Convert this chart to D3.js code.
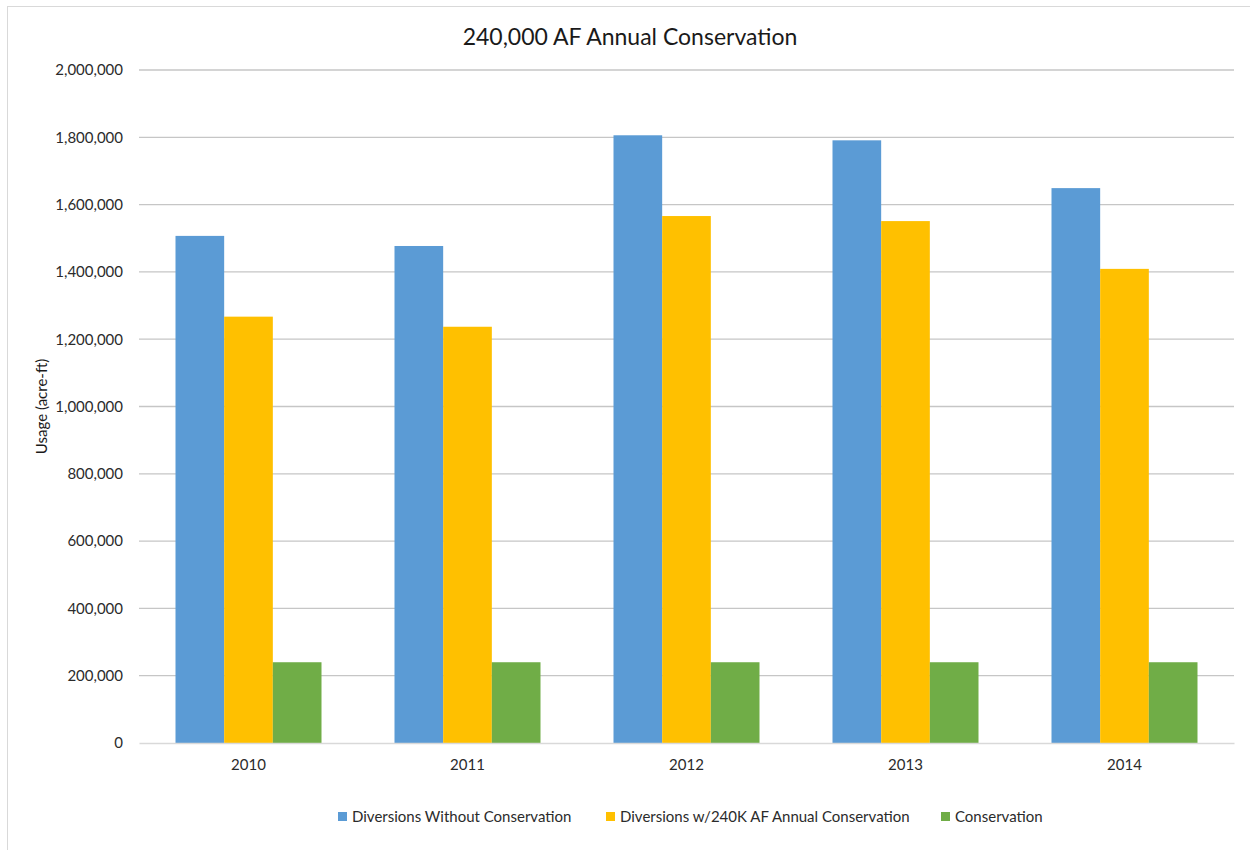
<!DOCTYPE html>
<html><head><meta charset="utf-8">
<script src="https://cdn.jsdelivr.net/npm/d3@7"></script>
<style>body{margin:0;background:#fff;} text{font-family:Lato,"Open Sans",sans-serif;}</style>
</head><body>
<svg id="c" width="1250" height="850"></svg>
<script>
const categories = ["2010","2011","2012","2013","2014"];
const seriesNames = ["Diversions Without Conservation","Diversions w/240K AF Annual Conservation","Conservation"];
const withoutConservation = [1507000, 1477000, 1806000, 1791000, 1649000];
const withConservation = [1267000, 1237000, 1566000, 1551000, 1409000];
const conservation = [240000, 240000, 240000, 240000, 240000];
const yTicks = [0,200000,400000,600000,800000,1000000,1200000,1400000,1600000,1800000,2000000];
const colors = ["#5B9BD5","#FFC000","#70AD47"];

const svg = d3.select("#c");
svg.append("rect").attr("x",7.5).attr("y",6.5).attr("width",1260).attr("height",860)
  .attr("fill","none").attr("stroke","#d9d9d9");

const L=139, R=1234, T=70, B=743;
const x0 = d3.scaleBand().domain(categories).range([L,R]).paddingInner(1/3).paddingOuter(1/6);
const x1 = d3.scaleBand().domain(d3.range(3)).range([0,x0.bandwidth()]);
const y = d3.scaleLinear().domain([0,2000000]).range([B,T]);

const g = svg.append("g");
g.selectAll("line.grid").data(yTicks.filter(d=>d>0)).join("line")
  .attr("x1",L).attr("x2",R).attr("y1",d=>y(d)).attr("y2",d=>y(d))
  .attr("stroke","#c6c6c6").attr("stroke-width",1.3);

const yAxis = d3.axisLeft(y).tickValues(yTicks).tickFormat(d3.format(",")).tickSize(0).tickPadding(16);
const ya = svg.append("g").attr("transform",`translate(${L},0)`).call(yAxis);
ya.select(".domain").remove();
ya.selectAll("text").attr("font-size",15).attr("fill","#2b2b2b").style("font-family","Lato");

const series = [withoutConservation, withConservation, conservation];
const data = categories.map((c,i)=>({cat:c, vals:series.map(s=>s[i])}));
const grp = svg.append("g").selectAll("g").data(data).join("g")
  .attr("transform",d=>`translate(${x0(d.cat)},0)`);
grp.selectAll("rect").data(d=>d.vals.map((v,j)=>({v,j}))).join("rect")
  .attr("x",d=>x1(d.j)).attr("width",x1.bandwidth())
  .attr("y",d=>y(d.v)).attr("height",d=>B-y(d.v))
  .attr("fill",d=>colors[d.j]);

const xAxis = d3.axisBottom(x0).tickSize(0).tickPadding(16);
const xa = svg.append("g").attr("transform",`translate(0,${B})`).call(xAxis);
xa.select(".domain").attr("stroke","#d9d9d9").attr("stroke-width",1.5);
xa.selectAll("text").attr("font-size",15).attr("fill","#2b2b2b").style("font-family","Lato");

svg.append("text").attr("x",630).attr("y",45).attr("text-anchor","middle")
  .attr("font-size",23).attr("fill","#1a1a1a").text("240,000 AF Annual Conservation");

svg.append("text").attr("transform",`translate(47,${(T+B)/2}) rotate(-90)`)
  .attr("text-anchor","middle").attr("font-size",15).attr("fill","#1a1a1a").text("Usage (acre-ft)");

const legX = [338, 606, 941];
const leg = svg.append("g").selectAll("g").data(seriesNames).join("g")
  .attr("transform",(d,i)=>`translate(${legX[i]},817)`);
leg.append("rect").attr("x",0).attr("y",-5).attr("width",9).attr("height",9).attr("fill",(d,i)=>colors[i]);
leg.append("text").attr("x",14).attr("y",5).attr("font-size",15).attr("fill","#2b2b2b").text(d=>d);
</script>
</body></html>
